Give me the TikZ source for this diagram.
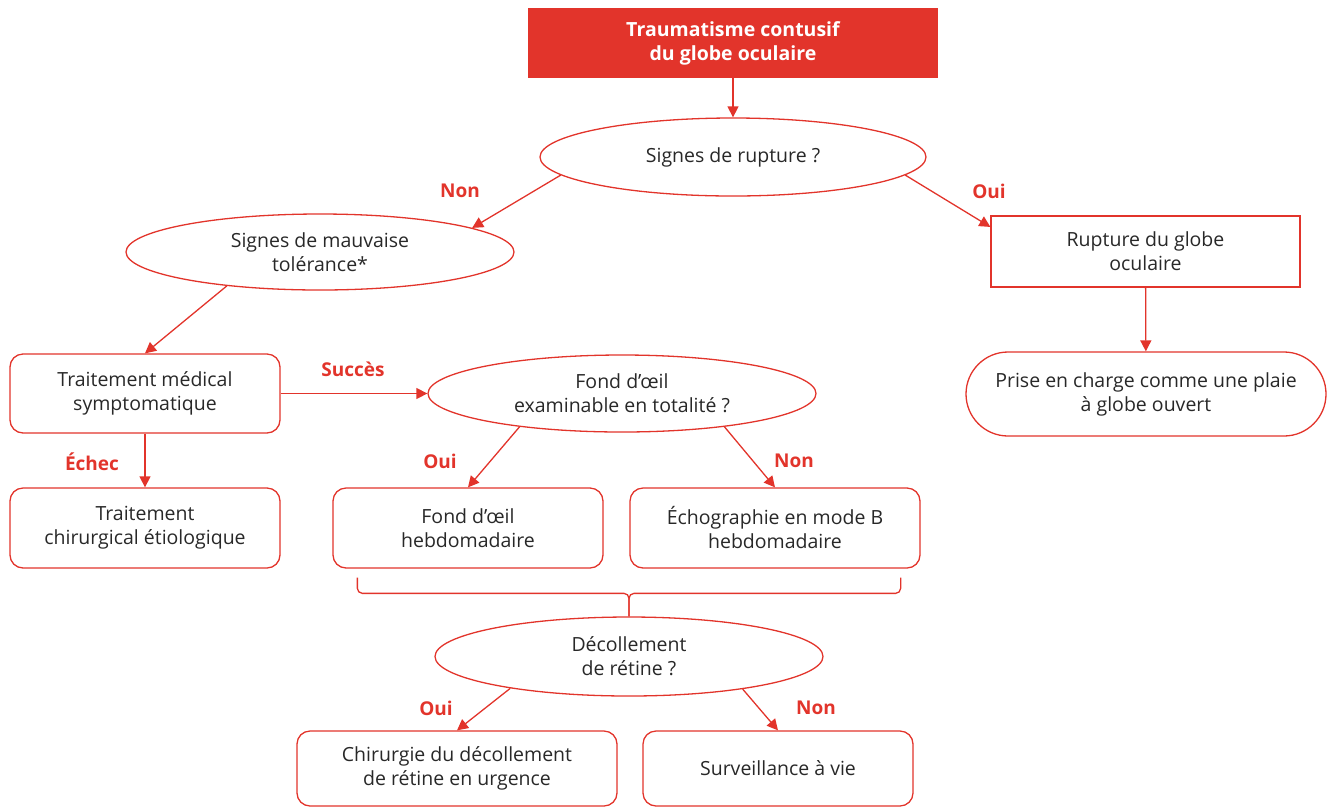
\documentclass[tikz,border=0pt]{standalone}
\usepackage{fontspec}
\setmainfont{Open Sans}
\usetikzlibrary{shapes,arrows.meta,positioning,calc}
\definecolor{rouge}{RGB}{226,52,43}
\definecolor{texte}{RGB}{40,40,40}

\begin{document}
\begin{tikzpicture}[x=1pt,y=-1pt,
  every node/.style={font=\fontsize{19.5}{24}\selectfont,text=texte,align=center,inner sep=2pt},
  boite/.style={draw=rouge,line width=1.3pt,rounded corners=13pt,minimum width=270pt,minimum height=80pt},
  carre/.style={draw=rouge,line width=1.3pt,minimum width=309pt,minimum height=71pt},
  bulle/.style={ellipse,draw=rouge,line width=1.3pt,minimum width=388pt,minimum height=78pt},
  etiq/.style={font=\fontsize{19}{22}\selectfont\bfseries,text=rouge},
  lien/.style={draw=rouge,line width=1.3pt},
  fleche/.style={lien,-{Triangle[length=11pt,width=11pt]}}]

\useasboundingbox (0,0) rectangle (1335,807);

% titre
\node [fill=rouge,minimum width=410pt,minimum height=70pt,
       font=\fontsize{19.5}{24}\selectfont\bfseries,text=white] (titre) at (733,43)
  {Traumatisme contusif\\du globe oculaire};

% questions
\node [bulle,minimum width=386pt] (rupt) at (733,157) {Signes de rupture ?};
\node [bulle,minimum height=76pt] (mauv) at (320,252) {Signes de mauvaise\\tolérance*};
\node [bulle,minimum height=77pt] (fond) at (622,393.5) {Fond d’œil\\examinable en totalité ?};
\node [bulle,minimum height=79pt] (decol) at (629,656.5) {Décollement\\de rétine ?};

% conduites
\node [carre] (globe) at (1145.5,251.5) {Rupture du globe\\oculaire};
\node [boite,rounded corners=42pt,minimum width=360pt,minimum height=84pt] (plaie) at (1146,394)
  {Prise en charge comme une plaie\\à globe ouvert};
\node [boite,minimum height=79pt] (medic) at (145,393.5) {Traitement médical\\symptomatique};
\node [boite] (chir) at (145,528) {Traitement\\chirurgical étiologique};
\node [boite] (fondh) at (468,528) {Fond d’œil\\hebdomadaire};
\node [boite,minimum width=290pt] (echo) at (775,528) {Échographie en mode B\\hebdomadaire};
\node [boite,minimum width=320pt,minimum height=75pt] (urg) at (457,768.5)
  {Chirurgie du décollement\\de rétine en urgence};
\node [boite,minimum height=75pt] (surv) at (778,768.5) {Surveillance à vie};

% reponses
\foreach \i/\pos/\mot in {1/{(460,191)}/Non,2/{(989,191)}/Oui,3/{(353,369)}/Succès,
    4/{(92,462)}/Échec,5/{(440,461)}/Oui,6/{(794,461)}/Non,7/{(436,708)}/Oui,8/{(816,708)}/Non}
  \node [etiq] (rep\i) at \pos {\mot};

\draw [fleche] (titre) -- (rupt);
\draw [fleche] (rupt.186) -- (mauv.9);
\draw [fleche] (rupt.-6) -- (globe.171);
\draw [fleche] (globe) -- (plaie);
\draw [fleche] (mauv.200) -- (medic.north);
\draw [fleche] (medic) -- (fond);
\draw [fleche] (medic) -- (chir);
\draw [fleche] (fond.198) -- (fondh.north);
\draw [fleche] (fond.-18) -- (echo.north);
\draw [fleche] (decol.195) -- (urg.north);
\draw [fleche] (decol.-16) -- (surv.north);

% accolade sous les deux examens
\coordinate (acc) at ($(decol.north)+(0,-23)$);
\draw [lien,rounded corners=5pt] ($(fondh.south west)+(25,9)$) |- (acc) -- (decol.north);
\draw [lien,rounded corners=5pt] ($(echo.south east)+(-20,9)$) |- (acc) -- (decol.north);

\end{tikzpicture}
\end{document}
